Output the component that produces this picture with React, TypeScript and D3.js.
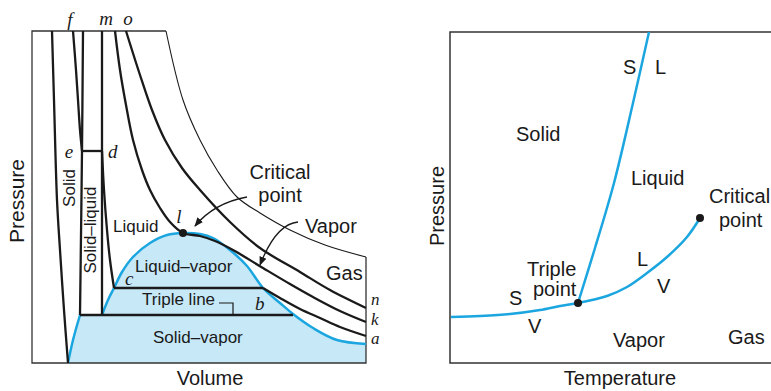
import React from 'react';
import * as d3 from 'd3';

type Pt = [number, number];

// ---- P–V diagram (left). volume / pressure in arbitrary units ----
const domeLeft: Pt[] = [[36, 0], [41, 23], [48, 48]];
const domeRight: Pt[] = [
  [70, 48], [76, 63], [82, 75], [90, 91], [101, 106], [118, 120], [135, 128], [151, 130],
  [168, 129], [181, 125], [198, 113], [215, 97], [231, 75], [248, 60], [261, 49],
  [281, 35], [305, 23], [334, 19],
];
const solidEdge: Pt[] = [[20, 332], [22, 263], [25, 163], [28, 113], [32, 53], [36, 0]];
const isothermF: Pt[] = [[41, 332], [44, 293], [46, 263], [48, 233], [50, 212]];
const solidLiquidLeft: Pt[] = [[51, 332], [50, 212], [48, 48]];
const solidLiquidRight: Pt[] = [[70, 332], [70, 48]];
const lineED: Pt[] = [[50, 212], [70, 212]];
const liquidDC: Pt[] = [[70, 212], [72, 173], [75, 133], [78, 103], [82, 75]];
const lineCB: Pt[] = [[82, 75], [231, 75]];
const vaporBA: Pt[] = [[231, 75], [248, 65], [268, 54], [288, 45], [308, 36], [334, 27]];
const tripleLine: Pt[] = [[48, 48], [261, 48]];
const criticalIso: Pt[] = [
  [83, 332], [88, 293], [94, 258], [101, 223], [110, 193], [118, 173], [128, 155], [138, 141],
  [151, 130], [168, 127], [183, 122], [201, 113], [231, 95], [258, 79], [281, 66], [308, 52], [334, 41],
];
const isothermO: Pt[] = [
  [94, 332], [108, 288], [120, 253], [133, 223], [150, 195], [168, 173], [198, 141],
  [228, 115], [268, 91], [298, 73], [334, 55],
];
const outerIso: Pt[] = [
  [134, 332], [151, 263], [168, 223], [185, 193], [205, 166], [228, 150], [258, 133], [293, 118], [334, 106],
];
const criticalPV: Pt = [151, 130];

// ---- P–T diagram (right) ----
const sublimation: Pt[] = [[1, 46], [30, 47], [60, 49], [90, 53], [110, 57], [128, 60]];
const vaporization: Pt[] = [[128, 60], [157, 67], [177, 76], [197, 90], [217, 106], [237, 126], [250, 145]];
const melting: Pt[] = [[128, 60], [145, 115], [164, 180], [183, 260], [199, 331]];
const triplePT: Pt = [128, 60];
const criticalPT: Pt = [250, 145];

const W = 771;
const H = 391;
const BLUE = '#1ba6e0';
const FILL = '#c7e8f7';
const INK = '#1a1a1a';
const SANS = '"Liberation Sans", Arial, Helvetica, sans-serif';
const SERIF = '"Liberation Serif", "Times New Roman", serif';

export default function App() {
  const xV = d3.scaleLinear().domain([0, 334]).range([32, 366]);
  const yV = d3.scaleLinear().domain([0, 332]).range([363, 31]);
  const xT = d3.scaleLinear().domain([0, 331]).range([450, 781]);
  const yT = d3.scaleLinear().domain([0, 331]).range([363, 32]);

  const curveL = d3.line<Pt>().x(d => xV(d[0])).y(d => yV(d[1])).curve(d3.curveCatmullRom.alpha(0.5));
  const straightL = d3.line<Pt>().x(d => xV(d[0])).y(d => yV(d[1]));
  const curveR = d3.line<Pt>().x(d => xT(d[0])).y(d => yT(d[1])).curve(d3.curveCatmullRom.alpha(0.5));

  const last = domeRight[domeRight.length - 1];
  const fillPath =
    (curveL(domeLeft) as string) +
    'L' + (curveL(domeRight) as string).slice(1) +
    `L${xV(last[0])},${yV(0)}L${xV(domeLeft[0][0])},${yV(0)}Z`;

  const thick = { fill: 'none', stroke: INK, strokeWidth: 2.3, strokeLinejoin: 'round' as const };
  const big = { fontFamily: SANS, fontSize: 20, fill: INK };
  const small = { fontFamily: SANS, fontSize: 17, fill: INK };
  const ital = { fontFamily: SERIF, fontSize: 19, fontStyle: 'italic', fill: INK };
  const italSm = { fontFamily: SERIF, fontSize: 17, fontStyle: 'italic', fill: INK };

  return (
    <svg width={W} height={H} style={{ position: 'absolute', left: 0, top: 0, background: '#fff' }}>
      <defs>
        <marker id="ah" viewBox="0 0 10 10" refX="9" refY="5" markerWidth="7" markerHeight="7" orient="auto">
          <path d="M0,1 L10,5 L0,9 Z" fill={INK} />
        </marker>
      </defs>

      {/* ---------- left: P–V ---------- */}
      <path d={fillPath} fill={FILL} />
      <path
        d={`M${xV(outerIso[0][0])},${yV(332)}L${xV(0)},${yV(332)}L${xV(0)},${yV(0)}L${xV(334)},${yV(0)}L${xV(334)},${yV(outerIso[outerIso.length - 1][1])}`}
        fill="none" stroke="#333" strokeWidth={1.3}
      />
      <path d={curveL(outerIso) as string} fill="none" stroke={INK} strokeWidth={1.1} />
      <path d={curveL(domeLeft) as string} fill="none" stroke={BLUE} strokeWidth={2.5} />
      <path d={curveL(domeRight) as string} fill="none" stroke={BLUE} strokeWidth={2.5} />

      <path d={curveL(solidEdge) as string} {...thick} />
      <path d={curveL(isothermF) as string} {...thick} />
      <path d={curveL(solidLiquidLeft) as string} {...thick} />
      <path d={straightL(solidLiquidRight) as string} {...thick} />
      <path d={straightL(lineED) as string} {...thick} />
      <path d={curveL(liquidDC) as string} {...thick} />
      <path d={straightL(lineCB) as string} {...thick} />
      <path d={curveL(vaporBA) as string} {...thick} />
      <path d={straightL(tripleLine) as string} {...thick} />
      <path d={curveL(criticalIso) as string} {...thick} />
      <path d={curveL(isothermO) as string} {...thick} />
      <circle cx={xV(criticalPV[0])} cy={yV(criticalPV[1])} r={4} fill={INK} />

      {/* arrows */}
      <path d="M247,197 Q214,203 195,226" fill="none" stroke={INK} strokeWidth={1.3} markerEnd="url(#ah)" />
      <path d="M298,222 Q276,224 260,265" fill="none" stroke={INK} strokeWidth={1.3} markerEnd="url(#ah)" />
      <path d="M219,303 L233,303 L233,315" fill="none" stroke={INK} strokeWidth={1.2} />

      <text x={70} y={26} textAnchor="middle" {...ital}>f</text>
      <text x={106} y={25} textAnchor="middle" {...ital}>m</text>
      <text x={128} y={25} textAnchor="middle" {...ital}>o</text>
      <text x={69} y={158} textAnchor="middle" {...ital}>e</text>
      <text x={108} y={158} {...ital}>d</text>
      <text x={179} y={223} textAnchor="middle" {...ital}>l</text>
      <text x={125} y={285} {...ital}>c</text>
      <text x={255} y={310} {...ital}>b</text>
      <text x={371} y={305} {...italSm}>n</text>
      <text x={371} y={325} {...italSm}>k</text>
      <text x={371} y={344} {...italSm}>a</text>

      <text transform="translate(75,188) rotate(-90)" textAnchor="middle" {...small}>Solid</text>
      <text transform="translate(96,230) rotate(-90)" textAnchor="middle" {...small}>Solid–liquid</text>
      <text x={113} y={232} {...small}>Liquid</text>
      <text x={135} y={272} {...small}>Liquid–vapor</text>
      <text x={142} y={305} {...small}>Triple line</text>
      <text x={153} y={343} {...small}>Solid–vapor</text>
      <text x={326} y={280} {...big}>Gas</text>
      <text x={280} y={179} textAnchor="middle" {...big}>Critical</text>
      <text x={280} y={202} textAnchor="middle" {...big}>point</text>
      <text x={305} y={233} {...big}>Vapor</text>
      <text x={210} y={385} textAnchor="middle" {...big}>Volume</text>
      <text transform="translate(24,201) rotate(-90)" textAnchor="middle" {...big} fontSize={21}>Pressure</text>

      {/* ---------- right: P–T ---------- */}
      <path
        d={`M${W + 2},${yT(331)}L${xT(0)},${yT(331)}L${xT(0)},${yT(0)}L${W + 2},${yT(0)}`}
        fill="none" stroke="#333" strokeWidth={1.5}
      />
      <path d={curveR(sublimation) as string} fill="none" stroke={BLUE} strokeWidth={2.5} />
      <path d={curveR(vaporization) as string} fill="none" stroke={BLUE} strokeWidth={2.5} />
      <path d={curveR(melting) as string} fill="none" stroke={BLUE} strokeWidth={2.5} />
      <circle cx={xT(triplePT[0])} cy={yT(triplePT[1])} r={4} fill={INK} />
      <circle cx={xT(criticalPT[0])} cy={yT(criticalPT[1])} r={4} fill={INK} />

      <text x={623} y={74} {...big}>S</text>
      <text x={655} y={74} {...big}>L</text>
      <text x={516} y={141} {...big}>Solid</text>
      <text x={631} y={185} {...big}>Liquid</text>
      <text x={709} y={203} {...big}>Critical</text>
      <text x={719} y={227} {...big}>point</text>
      <text x={527} y={276} {...big}>Triple</text>
      <text x={533} y={296} {...big}>point</text>
      <text x={509} y={305} {...big}>S</text>
      <text x={528} y={333} {...big}>V</text>
      <text x={637} y={266} {...big}>L</text>
      <text x={657} y={293} {...big}>V</text>
      <text x={613} y={347} {...big}>Vapor</text>
      <text x={728} y={344} {...big}>Gas</text>
      <text x={620} y={385} textAnchor="middle" {...big}>Temperature</text>
      <text transform="translate(444,206) rotate(-90)" textAnchor="middle" {...big}>Pressure</text>
    </svg>
  );
}
